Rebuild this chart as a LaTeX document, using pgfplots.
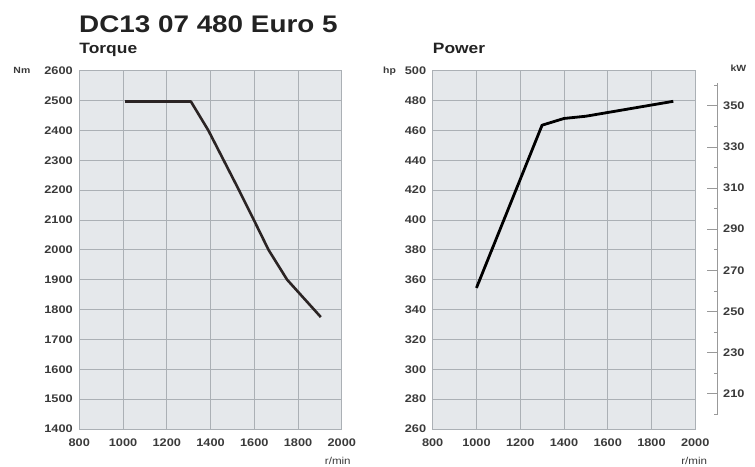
\documentclass[border=0pt]{standalone}
\usepackage{fontspec}
\setmainfont[FakeStretch=1.16]{Liberation Sans}
\usepackage{pgfplots}
\pgfplotsset{compat=1.18}
\definecolor{bgc}{HTML}{E5E8EB}
\definecolor{gridc}{HTML}{ABB0B5}
\definecolor{tickc}{HTML}{3A3A3A}
\definecolor{titc}{HTML}{222222}
\definecolor{torc}{HTML}{2B2424}
\pgfplotsset{engstyle/.style={
  scale only axis, width=262.5pt, height=358.3pt,
  xmin=800, xmax=2000, xtick={800,1000,...,2000},
  grid=major, major grid style={gridc, line width=0.8pt},
  axis background/.style={fill=bgc},
  axis line style={gridc, line width=0.8pt},
  major tick length=0pt,
  tick label style={font=\fontsize{11}{12}\selectfont\bfseries, text=tickc},
  xticklabel style={yshift=-6pt},
  yticklabel style={xshift=-3pt},
  /pgf/number format/assume math mode=true,
  /pgf/number format/1000 sep={},
  clip=false,
  title style={at={(0,1)}, anchor=base west, inner sep=0pt, yshift=11pt,
    font=\fontsize{15}{18}\selectfont\bfseries, text=titc},
}}
\begin{document}
\begin{tikzpicture}[x=1pt,y=1pt]
\useasboundingbox (0,0) rectangle (755,466);
\node[anchor=base west, inner sep=0pt, font=\fontsize{24}{28}\selectfont\bfseries, text=titc] at (79,433) {DC13 07 480 Euro 5};
\begin{axis}[engstyle, at={(79.3pt,37pt)}, anchor=south west,
  ymin=1400, ymax=2600, ytick={1400,1500,...,2600}, title={Torque}]
\addplot[torc, line width=2.6pt, line join=round] coordinates {
(1010,2497) (1310,2497) (1390,2400) (1460,2300) (1530,2200) (1598,2100) (1665,2000) (1750,1900) (1904,1775)};
\node[anchor=west, inner sep=0pt, font=\fontsize{9}{10}\selectfont\bfseries, text=tickc] at (axis description cs:0,1) [xshift=-66pt] {Nm};
\node[inner sep=0pt, font=\fontsize{10}{11}\selectfont, text=tickc] at (axis description cs:1,0) [yshift=-32pt, xshift=-4pt] {r/min};
\end{axis}
\begin{axis}[engstyle, at={(432.7pt,37pt)}, anchor=south west,
  ymin=260, ymax=500, ytick={260,280,...,500}, title={Power}]
\addplot[black, line width=2.8pt, line join=round] coordinates {
(1000,354.5) (1300,463.5) (1400,468) (1500,469.5) (1600,472) (1700,474.5) (1800,477) (1900,479.5)};
\node[anchor=west, inner sep=0pt, font=\fontsize{9}{10}\selectfont\bfseries, text=tickc] at (axis description cs:0,1) [xshift=-49.7pt] {hp};
\node[inner sep=0pt, font=\fontsize{10}{11}\selectfont, text=tickc] at (axis description cs:1,0) [yshift=-32pt, xshift=-1pt] {r/min};
\end{axis}
\begin{axis}[scale only axis, width=1pt, height=331.2pt, at={(716.7pt,51.7pt)}, anchor=south west,
  xmin=0, xmax=1, ymin=200, ymax=361,
  axis x line=none, axis y line*=right,
  axis line style={draw=gray!80, line width=0.6pt},
  ytick={210,230,...,350}, minor ytick={200,220,...,360},
  tick align=inside, major tick length=11pt, minor tick length=4pt,
  tick style={draw=gray!80, line width=0.6pt},
  tick label style={font=\fontsize{11}{12}\selectfont\bfseries, text=tickc},
  yticklabel style={xshift=2pt},
  /pgf/number format/assume math mode=true,
  clip=false]
\end{axis}
\node[font=\fontsize{9}{10}\selectfont\bfseries, text=tickc] at (738.5,397.5) {kW};
\end{tikzpicture}
\end{document}
